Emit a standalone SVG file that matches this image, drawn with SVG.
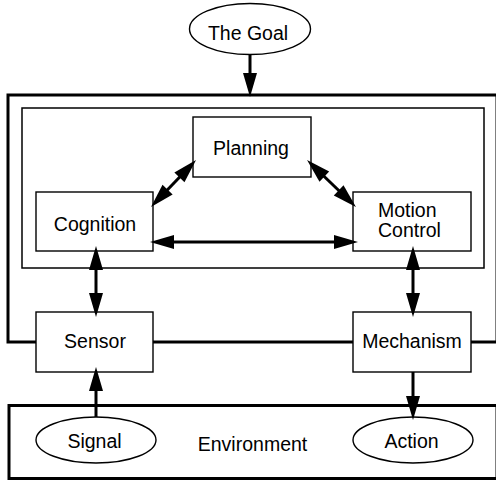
<svg xmlns="http://www.w3.org/2000/svg" width="496" height="482" viewBox="0 0 496 482">
<style>
.frame{fill:none;stroke:#000;stroke-width:3}
.inner{fill:none;stroke:#000;stroke-width:1.5}
.box{fill:#fff;stroke:#000;stroke-width:1.4}
.conn{fill:none;stroke:#000;stroke-width:3}
text{font-family:"Liberation Sans",Arial,sans-serif;font-size:19.5px;fill:#000}
.c{text-anchor:middle}
</style>
<defs>
<marker id="ah" markerUnits="userSpaceOnUse" markerWidth="24" markerHeight="14" refX="16" refY="7" orient="auto-start-reverse" style="overflow:visible">
<path d="M0,0 L24,7 L0,14 z" fill="#000"/>
</marker>
</defs>
<rect x="0" y="0" width="496" height="482" fill="#fff"/>
<g id="system">
<rect class="frame" x="8" y="95" width="489" height="247"/>
<rect class="inner" x="22" y="108" width="462" height="160"/>
</g>
<g id="environment">
<rect class="frame" x="9" y="405.5" width="488" height="73"/>
<text class="c" x="252.5" y="451">Environment</text>
</g>
<g id="goal">
<ellipse class="box" cx="250" cy="29" rx="60.5" ry="25.5"/>
<text class="c" x="248" y="40">The Goal</text>
</g>
<g id="planning">
<rect class="box" x="193" y="117" width="118" height="60"/>
<text class="c" x="251" y="155">Planning</text>
</g>
<g id="cognition">
<rect class="box" x="36" y="192" width="117" height="59"/>
<text class="c" x="95" y="231">Cognition</text>
</g>
<g id="motion">
<rect class="box" x="353" y="192" width="118" height="59"/>
<text x="378" y="217">Motion</text>
<text x="378" y="237">Control</text>
</g>
<g id="sensor">
<rect class="box" x="36" y="312" width="117" height="60"/>
<text class="c" x="95" y="348">Sensor</text>
</g>
<g id="mechanism">
<rect class="box" x="353" y="312" width="118" height="60"/>
<text class="c" x="412" y="348">Mechanism</text>
</g>
<g id="signal">
<ellipse class="box" cx="96" cy="440" rx="60" ry="23"/>
<text class="c" x="94.5" y="448">Signal</text>
</g>
<g id="action">
<ellipse class="box" cx="413" cy="440" rx="60" ry="23"/>
<text class="c" x="411.5" y="448">Action</text>
</g>
<g id="connectors">
<path class="conn" d="M250,55 V89" marker-end="url(#ah)"/>
<path class="conn" d="M190.5,165.8 L156.5,201.2" marker-start="url(#ah)" marker-end="url(#ah)"/>
<path class="conn" d="M312.8,165.5 L350.2,201.5" marker-start="url(#ah)" marker-end="url(#ah)"/>
<path class="conn" d="M158,242 H350" marker-start="url(#ah)" marker-end="url(#ah)"/>
<path class="conn" d="M96,254 V309" marker-start="url(#ah)" marker-end="url(#ah)"/>
<path class="conn" d="M413,254 V309" marker-start="url(#ah)" marker-end="url(#ah)"/>
<path class="conn" d="M96,417 V375" marker-end="url(#ah)"/>
<path class="conn" d="M413,372 V412" marker-end="url(#ah)"/>
</g>
</svg>
